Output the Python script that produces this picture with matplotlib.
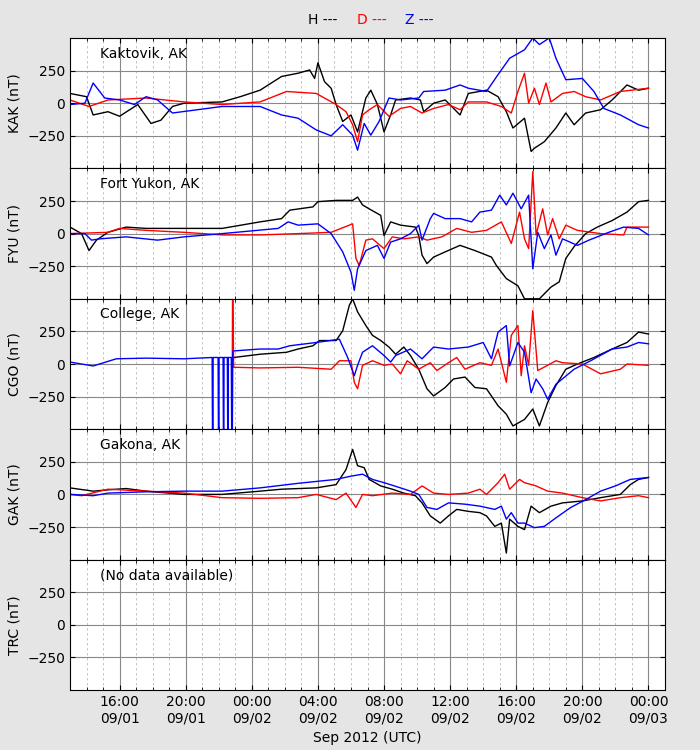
import numpy as np
import pandas as pd
import matplotlib
matplotlib.use("Agg")
import matplotlib.pyplot as plt
import matplotlib.dates as mdates

# times are hours after 2012-09-01 13:00 UTC; values in nT
stations = ["KAK", "FYU", "CGO", "GAK", "TRC"]
station_names = ["Kaktovik, AK", "Fort Yukon, AK", "College, AK", "Gakona, AK", "(No data available)"]

kak_h_t = [0,1,1.4,2.3,3,4.1,4.9,5.5,6.2,6.9,9.2,10.3,11.5,12.8,13.8,14.5,14.8,15,15.4,15.8,16.1,16.5,17,17.4,17.9,18.2,18.6,19,19.4,19.7,20.6,21.2,21.4,22,22.7,23.6,24.1,25.2,25.9,26.4,26.8,27.5,27.9,28.1,28.7,29.4,30,30.5,31.2,32.1,32.8,33.7,34.4,35]
kak_h_v = [75,50,-90,-65,-100,-10,-155,-130,-25,0,10,50,100,205,230,255,190,310,165,115,-10,-140,-90,-220,40,100,-10,-220,-90,25,40,25,-65,0,25,-90,75,100,50,-65,-190,-115,-370,-345,-295,-190,-75,-165,-75,-50,25,140,100,115]
kak_d_t = [0,1.15,2.3,4.6,6.9,9.2,11.5,13.1,14.9,16.1,16.7,17.1,17.4,17.7,18.1,18.6,19.3,20,20.6,21.3,22,22.9,23.6,24.1,25.2,26.1,26.7,27.1,27.5,27.75,28.1,28.4,28.8,29.1,29.8,30.5,31.2,32.1,33.3,35]
kak_d_v = [25,-25,25,40,10,-10,10,90,75,-10,-65,-165,-295,-90,-50,-10,-100,-40,-25,-75,-40,-10,-50,10,10,-25,-75,90,230,0,115,-10,155,10,75,90,50,25,90,115]
kak_z_t = [0,0.9,1.4,2.1,3,3.9,4.6,5.3,6.2,9.2,11.5,12.8,13.8,14.9,15.8,16.5,17.1,17.4,17.8,18.2,18.7,19.3,20,21.1,21.4,22.7,23.6,24.1,25.2,25.9,26.6,27.5,28,28.4,29,29.4,30,31,31.7,32.3,33.3,34.4,35]
kak_z_v = [-10,0,155,40,25,-10,50,25,-75,-25,-25,-90,-115,-205,-250,-165,-245,-360,-155,-245,-140,40,25,40,90,100,140,115,90,220,345,410,500,450,500,345,180,190,90,-40,-90,-165,-190]

fyu_h_t = [0,0.7,1.15,1.6,2.3,3.4,4.6,6.9,9.2,11.5,12.8,13.3,14.7,15,16.1,17.1,17.4,17.7,18.1,18.8,19,19.4,20,20.9,21.1,21.3,21.6,22,22.7,23.6,24.5,25.5,25.8,26.4,27.1,27.5,28.4,29.1,29.6,30,30.5,31.2,31.9,32.8,33.7,34.4,35]
fyu_h_v = [50,0,-130,-50,10,50,40,40,40,90,115,180,205,245,255,255,280,220,190,140,-15,90,65,50,-15,-165,-230,-180,-140,-90,-130,-180,-245,-345,-400,-500,-500,-410,-370,-190,-100,0,50,100,165,245,255]
fyu_d_t = [0,2.3,3,4.6,6.9,9.2,11.5,13.8,15.8,17.1,17.3,17.5,17.9,18.3,19,19.5,20.2,21.1,21.6,22.5,23.4,24.3,25.2,26.1,26.7,27.2,27.5,27.75,28,28.2,28.6,28.9,29.2,29.6,30,30.7,32.1,33.5,33.7,35]
fyu_d_v = [0,10,40,25,10,-10,-10,0,10,75,-190,-245,-50,-40,-115,-25,-40,-25,-50,-25,40,10,25,90,-75,165,-40,-115,475,-10,190,-10,115,-40,65,25,0,-10,50,50]
fyu_z_t = [0,0.9,1.3,1.8,3.4,5.3,6.9,9.2,12.6,13.2,13.8,15,15.8,16.5,17,17.2,17.4,17.9,18.6,19,19.4,20,20.6,21.1,21.3,21.8,22,22.7,23.6,24.3,24.8,25.5,26,26.4,26.8,27.3,27.75,28,28.3,28.7,29.1,29.4,29.8,30.7,31.4,32.6,33.5,34.4,35]
fyu_z_v = [0,0,-50,-40,-25,-50,-25,0,40,90,65,75,0,-140,-295,-435,-270,-130,-90,-190,-65,-40,0,65,-50,115,155,115,115,90,165,180,295,220,310,190,295,-270,10,-115,-10,-165,-40,-90,-50,10,50,40,-10]

cgo_h_t = [9.9,11.5,13.1,13.8,14.7,15.1,16.1,16.5,16.9,17.1,17.4,17.9,18.3,18.8,19.3,19.7,20.2,20.6,21.1,21.6,22,22.7,23.2,23.9,24.5,25.2,25.9,26.4,26.8,27.5,28,28.4,28.9,29.4,30,30.7,31.7,32.8,33.7,34.4,35]
cgo_h_v = [50,75,90,115,140,180,180,255,450,500,400,295,220,180,130,75,130,65,-40,-190,-245,-180,-115,-100,-180,-190,-320,-385,-475,-425,-345,-475,-295,-165,-40,0,50,115,165,245,230]
cgo_d_t = [9.82,9.84,9.9,11.5,13.8,15.8,16.3,17,17.2,17.4,17.7,18.3,19,19.5,20,20.4,21.1,21.8,22.2,22.9,23.4,23.9,24.8,25.5,25.9,26.4,26.7,27.1,27.3,27.5,27.75,28,28.3,28.9,29.4,29.8,31,32.1,33.3,33.7,35]
cgo_d_v = [-25,700,-25,-30,-25,-40,25,25,-140,-190,-10,25,-10,0,-75,25,-40,10,-50,10,50,-40,10,-10,115,-140,220,295,-90,140,-10,410,-50,-10,25,10,0,-75,-40,0,-10]
cgo_z_t = [0,1.4,2.8,4.6,6.9,8.6,8.64,8.66,8.96,9.0,9.02,9.26,9.3,9.32,9.52,9.56,9.58,9.76,9.8,9.85,11.5,12.6,13.3,14.9,16.3,16.8,17.2,17.4,17.7,18.3,19,19.4,19.7,20.6,21.3,22,22.9,24.1,25,25.5,25.9,26.4,26.6,27.1,27.5,27.9,28.2,28.6,28.9,29.4,30.5,31.5,32.8,33.7,34.4,35]
cgo_z_v = [15,-15,40,45,40,50,-1000,50,50,-1000,50,50,-1000,50,50,-1000,50,50,-1000,100,115,115,140,165,190,50,-90,-10,90,140,65,15,65,115,40,130,115,130,165,40,245,295,-15,165,90,-220,-115,-190,-270,-155,-40,25,115,130,165,155]

gak_h_t = [0,1.4,2.3,3.4,4.6,6.9,9.2,11.5,12.8,14.9,16.1,16.7,17.1,17.4,17.8,18.1,18.8,19.5,20.2,20.9,21.3,21.8,22.4,22.9,23.4,24.1,24.8,25.2,25.7,26.1,26.4,26.6,27.1,27.5,27.9,28.4,29.1,29.8,31,32.1,33.3,33.9,34.4,35]
gak_h_v = [50,25,35,45,25,0,0,25,40,50,75,190,345,220,205,115,65,40,10,-10,-65,-165,-220,-165,-115,-130,-140,-165,-245,-220,-450,-190,-245,-270,-90,-140,-90,-65,-50,-25,0,75,115,130]
gak_d_t = [0,0.7,2.3,4.6,6.9,9.2,11.5,13.8,14.9,16.1,16.7,17.3,17.7,18.3,19.5,20.6,21.3,22,22.9,24.1,24.8,25.2,25.9,26.3,26.6,27.2,27.5,28.2,28.9,29.8,31,32.1,33.3,34.4,35]
gak_d_v = [0,-10,40,25,10,-25,-30,-25,0,-40,10,-100,0,-10,10,0,65,10,0,10,40,0,90,155,40,115,90,65,25,10,-25,-50,-25,-10,-25]
gak_z_t = [0,1.4,2.3,4.6,6.9,9.2,11.5,13.8,16.1,17,17.7,18.3,19,20,20.6,21.1,21.6,22.2,22.9,23.9,24.8,25.7,26.1,26.4,26.7,27.1,27.5,28.1,28.7,29.4,30.3,31.2,32.1,33,33.9,35]
gak_z_v = [0,-10,10,20,25,25,50,85,115,140,155,115,90,50,25,0,-100,-115,-65,-75,-90,-115,-90,-190,-140,-220,-220,-255,-245,-180,-100,-40,25,65,115,130]

series = {
    "KAK": [(kak_h_t, kak_h_v), (kak_d_t, kak_d_v), (kak_z_t, kak_z_v)],
    "FYU": [(fyu_h_t, fyu_h_v), (fyu_d_t, fyu_d_v), (fyu_z_t, fyu_z_v)],
    "CGO": [(cgo_h_t, cgo_h_v), (cgo_d_t, cgo_d_v), (cgo_z_t, cgo_z_v)],
    "GAK": [(gak_h_t, gak_h_v), (gak_d_t, gak_d_v), (gak_z_t, gak_z_v)],
    "TRC": [],
}
colors = ["black", "red", "blue"]
base = pd.Timestamp("2012-09-01 13:00")

def totime(t):
    return [base + pd.Timedelta(hours=x) for x in t]

fig = plt.figure(figsize=(7, 7.5), dpi=100, facecolor="#e5e5e5")
left, right, top, bottom = 0.1, 0.95, 0.9493, 0.08
h = (top - bottom) / 5
axes = []
for i, st in enumerate(stations):
    ax = fig.add_axes([left, top - (i + 1) * h, right - left, h])
    axes.append(ax)
    # draw Z, D, H order so H on top? reference shows mixed; draw H,D,Z
    for (t, v), c in zip(series[st][::-1], colors[::-1][:len(series[st])]):
        pass
    for (t, v), c in zip(series[st], colors):
        ax.plot(totime(t), v, color=c, lw=1)
    ax.set_xlim(base, base + pd.Timedelta(hours=36))
    ax.set_ylim(-500, 500)
    ax.set_yticks([-250, 0, 250])
    ax.set_ylabel(f"{st} (nT)", fontsize=10)
    ax.text(0.05, 0.88, station_names[i], transform=ax.transAxes, fontsize=10, va="center")
    ax.xaxis.set_major_locator(mdates.HourLocator(byhour=[0, 4, 8, 12, 16, 20]))
    ax.xaxis.set_minor_locator(mdates.HourLocator())
    ax.xaxis.set_major_formatter(mdates.DateFormatter("%H:%M\n%m/%d"))
    ax.grid(True, which="major", color="#888888", lw=0.8, ls="-")
    ax.grid(True, which="minor", axis="x", color="#bbbbbb", lw=0.6, ls=(0, (3, 3)))
    ax.tick_params(labelsize=10, direction="in", top=True, right=True)
    ax.tick_params(which="minor", direction="in", top=True)
    if i < 4:
        ax.tick_params(labelbottom=False)
axes[-1].set_xlabel("Sep 2012 (UTC)", fontsize=10)

fig.text(0.44, 0.974, "H ---", color="black", fontsize=10, ha="left", va="center")
fig.text(0.51, 0.974, "D ---", color="red", fontsize=10, ha="left", va="center")
fig.text(0.578, 0.974, "Z ---", color="blue", fontsize=10, ha="left", va="center")

fig.savefig("out.png", dpi=100, facecolor=fig.get_facecolor())
